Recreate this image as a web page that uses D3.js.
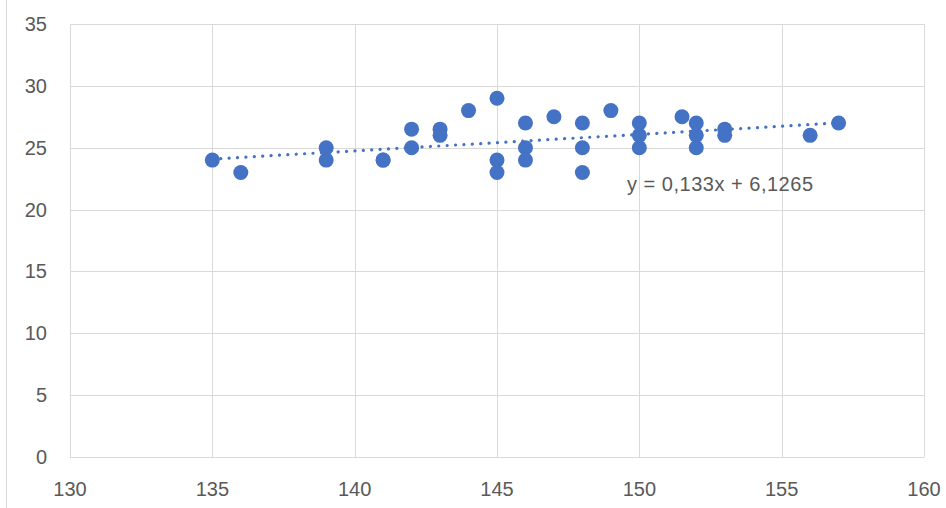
<!DOCTYPE html>
<html><head><meta charset="utf-8">
<script src="https://cdn.jsdelivr.net/npm/d3@7"></script>
<style>body{margin:0;background:#fff;}svg{display:block;}</style>
</head><body>
<script>
const xs = [135,136,139,139,141,141,142,142,143,143,144,145,145,145,146,146,146,147,148,148,148,149,150,150,150,151.5,152,152,152,153,153,156,157];
const ys = [24,23,25,24,24,24,26.5,25,26.5,26,28,29,24,23,27,25,24,27.5,27,25,23,28,27,26,25,27.5,27,26,25,26.5,26,26,27];
const xTicks = [130,135,140,145,150,155,160];
const yTicks = [0,5,10,15,20,25,30,35];
const slope = 0.133, intercept = 6.1265;
const eqLabel = "y = 0,133x + 6,1265";

const W=946,H=508;
const svg=d3.select("body").append("svg").attr("width",W).attr("height",H);
svg.append("rect").attr("width",W).attr("height",H).attr("fill","#fff");
svg.append("line").attr("x1",6.5).attr("x2",6.5).attr("y1",0).attr("y2",H).attr("stroke","#d9d9d9").attr("stroke-width",1);

const x=d3.scaleLinear().domain([130,160]).range([70,924]);
const y=d3.scaleLinear().domain([0,35]).range([457,24]);
const font="'Liberation Sans', Arial, sans-serif";
const tc="#595959";

const g=svg.append("g");
g.selectAll(".hg").data(yTicks).enter().append("line")
 .attr("x1",x(130)).attr("x2",x(160)).attr("y1",d=>Math.round(y(d))+0.5).attr("y2",d=>Math.round(y(d))+0.5)
 .attr("stroke","#d9d9d9").attr("stroke-width",1);
g.selectAll(".vg").data(xTicks).enter().append("line")
 .attr("y1",y(0)).attr("y2",y(35)).attr("x1",d=>Math.round(x(d))+0.5).attr("x2",d=>Math.round(x(d))+0.5)
 .attr("stroke","#d9d9d9").attr("stroke-width",1);

g.selectAll(".yl").data(yTicks).enter().append("text")
 .attr("x",47).attr("y",d=>y(d)+7).attr("text-anchor","end")
 .attr("font-family",font).attr("font-size",20).attr("fill",tc).text(d=>d);
g.selectAll(".xl").data(xTicks).enter().append("text")
 .attr("x",d=>x(d)).attr("y",496).attr("text-anchor","middle")
 .attr("font-family",font).attr("font-size",20).attr("fill",tc).text(d=>d);

const col="#4472C4";
const pts=xs.map((v,i)=>[v,ys[i]]);
g.selectAll(".pt").data(pts).enter().append("circle")
 .attr("cx",d=>x(d[0])).attr("cy",d=>y(d[1])).attr("r",7.5).attr("fill",col);

const x0=d3.min(xs),x1=d3.max(xs);
g.append("line").attr("x1",x(x0)).attr("y1",y(slope*x0+intercept)).attr("x2",x(x1)).attr("y2",y(slope*x1+intercept))
 .attr("stroke",col).attr("stroke-width",3.2).attr("stroke-dasharray","0.1 8.3").attr("stroke-linecap","round");

g.append("text").attr("x",627).attr("y",191).attr("font-family",font).attr("font-size",20)
 .attr("textLength",186).attr("lengthAdjust","spacing").attr("fill",tc).text(eqLabel);
</script>
</body></html>
